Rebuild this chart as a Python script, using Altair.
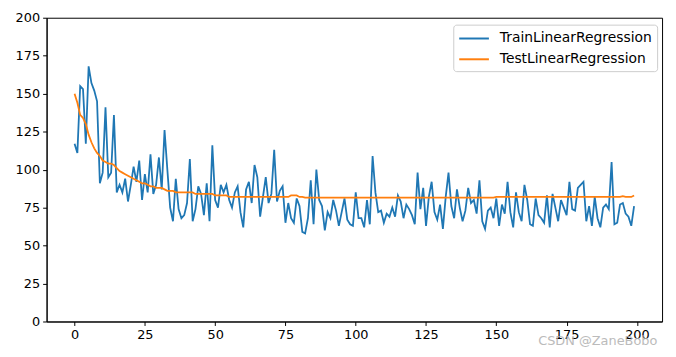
import altair as alt
import pandas as pd

epochs = list(range(200))

train = [
    117, 111, 155, 153, 117, 168, 157, 152, 145, 91,
    98, 141, 95, 98, 136, 85, 90, 85, 94, 79,
    90, 102, 92, 106, 80, 97, 85, 110, 84, 90,
    108, 87, 126, 100, 75, 66, 94, 74, 68, 70,
    78, 107, 66, 74, 89, 84, 70, 91, 66, 116,
    80, 75, 90, 85, 90, 80, 75, 85, 89, 72,
    62, 87, 92, 78, 103, 95, 69, 82, 95, 78,
    84, 113, 79, 86, 89, 65, 78, 68, 65, 81,
    76, 59, 58, 68, 93, 64, 100, 80, 76, 60,
    72, 68, 80, 73, 63, 72, 81, 67, 64, 63,
    85, 68, 68, 62, 80, 64, 109, 85, 72, 73,
    65, 71, 69, 75, 69, 83, 79, 68, 77, 74,
    70, 64, 98, 74, 88, 63, 82, 92, 72, 67,
    77, 61, 82, 98, 76, 68, 87, 75, 66, 73,
    88, 78, 80, 71, 93, 66, 61, 73, 75, 68,
    81, 63, 77, 71, 92, 72, 62, 85, 72, 66,
    90, 80, 64, 63, 81, 70, 68, 65, 83, 62,
    84, 75, 66, 80, 75, 70, 92, 74, 73, 88,
    90, 92, 66, 76, 63, 82, 68, 62, 75, 77,
    74, 105, 64, 65, 77, 78, 71, 69, 63, 76,
]

test = [
    150, 144, 136, 134, 130, 123, 118, 114, 111, 109,
    106, 105, 104, 104, 103, 101, 99, 98, 97, 96,
    95, 94, 93, 92, 91, 91, 90, 89, 89, 88,
    88, 88, 87, 86, 86, 86, 85, 85, 85, 85,
    85, 85, 85, 84, 84, 84, 84, 84, 84, 84,
    83, 83, 83, 83, 83, 82, 82, 82, 82, 82,
    82, 82, 82, 82, 82, 82, 82, 82, 82, 82,
    82, 82, 82, 82, 82, 82, 82, 83, 83, 83,
    82, 82, 81.5, 81.5, 81.5, 81.5, 81.5, 81.5, 81.5, 81.5,
    81.5, 81.5, 81.5, 81.5, 81.5, 81.5, 81.5, 81.5, 81.5, 81.5,
    81.5, 81.5, 81.5, 81.5, 81.5, 81.5, 81.5, 81.5, 81.5, 81.5,
    81.5, 81.5, 81.5, 81.5, 81.5, 81.5, 81.5, 81.5, 81.5, 81.5,
    81.5, 81.5, 81.5, 81.5, 81.5, 81.5, 81.5, 81.5, 81.5, 81.5,
    81.5, 81.5, 81.5, 81.5, 81.5, 81.5, 81.5, 81.5, 81.5, 81.5,
    81.5, 81.5, 81.5, 81.5, 81.5, 81.5, 81.5, 81.5, 81.5, 81.5,
    82, 82, 82, 82, 82, 82, 82, 82, 82, 82,
    82, 82, 82, 82, 82, 82, 82, 82, 82, 82,
    82, 82, 82, 82, 82, 82, 82, 82, 82, 82,
    82, 82, 82, 82, 82, 82, 82, 82, 82, 82,
    82, 82, 82, 82, 82, 82.5, 82, 82, 82, 83,
]

series_names = ["TrainLinearRegression", "TestLinearRegression"]
series_colors = ["#1f77b4", "#ff7f0e"]
x_ticks = [0, 25, 50, 75, 100, 125, 150, 175, 200]
y_ticks = [0, 25, 50, 75, 100, 125, 150, 175, 200]
watermark = ["CSDN @ZaneBobo"]

df = pd.DataFrame({
    "epoch": epochs + epochs,
    "value": train + test,
    "series": [series_names[0]] * len(train) + [series_names[1]] * len(test),
})

FONT = "DejaVu Sans"

lines = alt.Chart(df).mark_line(strokeWidth=1.8, clip=True).encode(
    x=alt.X("epoch:Q",
            scale=alt.Scale(domain=[-9.95, 208.95], nice=False, zero=False),
            axis=alt.Axis(values=x_ticks, title=None, grid=False, format="d")),
    y=alt.Y("value:Q",
            scale=alt.Scale(domain=[0, 200], nice=False),
            axis=alt.Axis(values=y_ticks, title=None, grid=False, format="d")),
    color=alt.Color("series:N",
                    scale=alt.Scale(domain=series_names, range=series_colors),
                    sort=series_names,
                    legend=alt.Legend(
                        title=None, orient="none", legendX=411, legendY=7,
                        symbolType="M-1,0H2.75", symbolSize=256, symbolStrokeWidth=2,
                        labelFontSize=14, labelFont=FONT, labelColor="black",
                        strokeColor="#cccccc", fillColor="white", cornerRadius=3,
                        padding=5, rowPadding=5, labelOffset=24,
                    )),
)

wm = alt.Chart(pd.DataFrame({"t": watermark})).mark_text(
    font=FONT, fontSize=13, color="#b0b0b0", opacity=0.85, align="center", baseline="middle"
).encode(
    text="t:N",
    x=alt.value(557),
    y=alt.value(327),
)

chart = alt.layer(lines, wm).properties(
    width=622, height=307,
    autosize=alt.AutoSizeParams(type="none"),
    padding={"left": 39, "top": 8, "right": 6, "bottom": 30},
).configure_view(
    stroke="black", strokeWidth=1
).configure_axis(
    domainColor="black", tickColor="black", tickSize=4, labelColor="black",
    labelFontSize=13, labelFont=FONT, labelPadding=3, domainWidth=1, tickWidth=1,
)

chart.save("out.html", embed_options={"renderer": "svg", "actions": False})
